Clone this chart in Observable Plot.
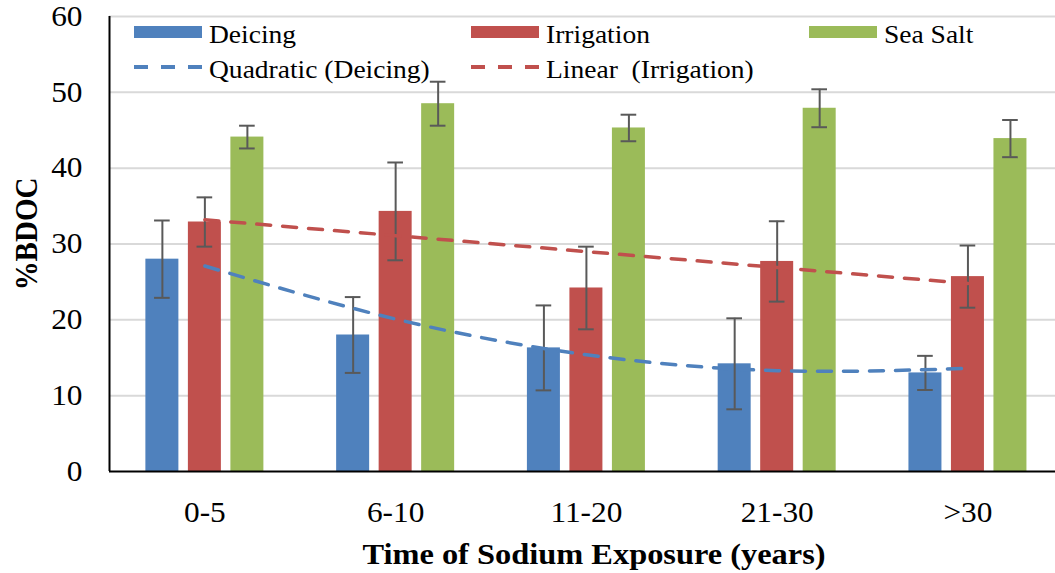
<!DOCTYPE html>
<html>
<head>
<meta charset="utf-8">
<script src="https://cdn.jsdelivr.net/npm/d3@7"></script>
<script src="https://cdn.jsdelivr.net/npm/@observablehq/plot@0.6"></script>
<style>
  html, body { margin: 0; padding: 0; background: #fff; }
  #wrap { position: relative; width: 1055px; height: 573px; overflow: hidden; }
  #overlay { position: absolute; left: 0; top: 0; pointer-events: none; }
</style>
</head>
<body>
<div id="wrap"></div>
<script>
// ---- Data ----
const categories = ["0-5", "6-10", "11-20", "21-30", ">30"];
const seriesNames = ["Deicing", "Irrigation", "Sea Salt"];
const seriesColors = ["#4F81BD", "#C0504D", "#9BBB59"];

const deicing       = [28.0, 18.0, 16.3, 14.2, 13.0];
const deicingErr    = [5.1, 5.0, 5.6, 6.0, 2.25];
const irrigation    = [32.9, 34.3, 24.2, 27.7, 25.7];
const irrigationErr = [3.25, 6.45, 5.45, 5.3, 4.1];
const seaSalt       = [44.1, 48.5, 45.3, 47.9, 43.9];
const seaSaltErr    = [1.5, 2.9, 1.75, 2.5, 2.45];

// trend lines at each category
const quadTrendDeicing      = [27.1, 20.1, 15.4, 13.3, 13.6];
const linearTrendIrrigation = [33.2, 31.1, 29.0, 26.9, 24.8];

const yTicks = [0, 10, 20, 30, 40, 50, 60];

// ---- Build table ----
const values = [deicing, irrigation, seaSalt];
const errs = [deicingErr, irrigationErr, seaSaltErr];
const offsets = [-0.2228, 0, 0.2228];
const halfBar = 0.0865;
const halfCap = 0.041;

const rows = [];
categories.forEach((cat, i) => {
  seriesNames.forEach((s, j) => {
    rows.push({
      cat, series: s,
      pos: i + 1 + offsets[j],
      value: values[j][i],
      lo: values[j][i] - errs[j][i],
      hi: values[j][i] + errs[j][i]
    });
  });
});
const quadRows = categories.map((c, i) => ({pos: i + 1, v: quadTrendDeicing[i]}));
const linRows = categories.map((c, i) => ({pos: i + 1, v: linearTrendIrrigation[i]}));

const font = "'Liberation Serif', 'Times New Roman', serif";
const errColor = "#595959";
const stretch = 1.08; // reference text is slightly wider than tall

const plot = Plot.plot({
  width: 1055,
  height: 573,
  marginLeft: 109,
  marginRight: 0,
  marginTop: 16,
  marginBottom: 102,
  style: {fontFamily: font, background: "#fff", color: "#000"},
  x: {domain: [0.5, 5.459]},
  y: {domain: [0, 60]},
  color: {domain: seriesNames, range: seriesColors},
  marks: [
    Plot.gridY(yTicks.filter(d => d > 0), {stroke: "#D9D9D9", strokeOpacity: 1, strokeWidth: 2}),
    Plot.rect(rows, {
      x1: d => d.pos - halfBar, x2: d => d.pos + halfBar,
      y1: 0, y2: "value", fill: "series"
    }),
    Plot.ruleX(rows, {x: "pos", y1: "lo", y2: "hi", stroke: errColor, strokeWidth: 2}),
    Plot.ruleY(rows, {y: "hi", x1: d => d.pos - halfCap, x2: d => d.pos + halfCap, stroke: errColor, strokeWidth: 2}),
    Plot.ruleY(rows, {y: "lo", x1: d => d.pos - halfCap, x2: d => d.pos + halfCap, stroke: errColor, strokeWidth: 2}),
    Plot.line(linRows, {x: "pos", y: "v", stroke: seriesColors[1], strokeWidth: 3.5, strokeDasharray: "14,12", curve: "linear"}),
    Plot.line(quadRows, {x: "pos", y: "v", stroke: seriesColors[0], strokeWidth: 3.5, strokeDasharray: "14,12", curve: "natural"}),
    Plot.ruleX([0.5], {y1: 0, y2: 60, stroke: "#000", strokeWidth: 2}),
    Plot.ruleY([0], {stroke: "#000", strokeWidth: 2}),
    Plot.axisY({ticks: yTicks, tickSize: 0, tickPadding: 27, fontSize: 29, label: null, fontFamily: font}),
    Plot.axisX({ticks: [1, 2, 3, 4, 5], tickFormat: d => categories[d - 1], tickSize: 0, tickPadding: 30, fontSize: 29, label: null, fontFamily: font})
  ]
});

// widen tick label glyphs slightly, keeping their anchor points
plot.querySelectorAll("text").forEach(t => {
  const tr = t.getAttribute("transform");
  if (tr && tr.includes("translate")) {
    t.setAttribute("transform", tr + ` scale(${stretch},1)`);
  } else {
    const x = +(t.getAttribute("x") || 0), y = +(t.getAttribute("y") || 0);
    t.removeAttribute("x"); t.removeAttribute("y");
    t.setAttribute("transform", `${tr || ""} translate(${x},${y}) scale(${stretch},1)`);
  }
});

const wrap = document.getElementById("wrap");
wrap.appendChild(plot);

// ---- Legend and axis titles overlay (real text) ----
const ns = "http://www.w3.org/2000/svg";
const ov = document.createElementNS(ns, "svg");
ov.setAttribute("id", "overlay");
ov.setAttribute("width", 1055);
ov.setAttribute("height", 573);
wrap.appendChild(ov);

function el(tag, attrs, text) {
  const e = document.createElementNS(ns, tag);
  for (const k in attrs) e.setAttribute(k, attrs[k]);
  if (text != null) e.textContent = text;
  ov.appendChild(e);
  return e;
}
function txt(x, y, str, size, extra = {}) {
  return el("text", Object.assign({
    transform: `translate(${x},${y}) scale(${stretch},1)`,
    "font-size": size, "font-family": font, fill: "#000"
  }, extra), str);
}

const legendBars = [
  {x: 134, label: "Deicing", color: seriesColors[0]},
  {x: 471, label: "Irrigation", color: seriesColors[1]},
  {x: 809, label: "Sea Salt", color: seriesColors[2]}
];
legendBars.forEach(d => {
  el("rect", {x: d.x, y: 26, width: 68, height: 12, fill: d.color});
  txt(d.x + 75, 42.5, d.label, 25.5);
});
const legendLines = [
  {x: 134, label: "Quadratic (Deicing)", color: seriesColors[0]},
  {x: 471, label: "Linear\u00A0 (Irrigation)", color: seriesColors[1]}
];
legendLines.forEach(d => {
  el("line", {x1: d.x, x2: d.x + 68, y1: 67, y2: 67, stroke: d.color, "stroke-width": 4, "stroke-dasharray": "14,13"});
  txt(d.x + 75, 78, d.label, 25.5);
});

el("text", {transform: `translate(36.5,234) rotate(-90) scale(1,${stretch})`, "text-anchor": "middle", "font-size": 29, "font-weight": "bold", "font-family": font, fill: "#000"}, "%BDOC");
txt(594, 564, "Time of Sodium Exposure (years)", 30, {"text-anchor": "middle", "font-weight": "bold"});
</script>
</body>
</html>
